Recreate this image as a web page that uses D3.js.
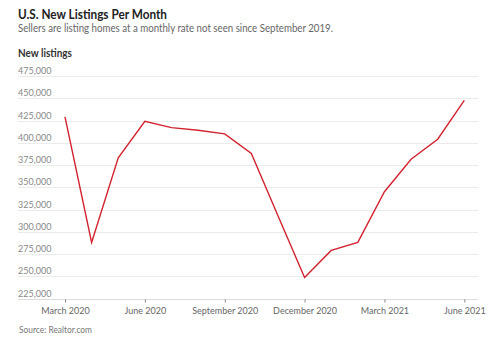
<!DOCTYPE html>
<html>
<head>
<meta charset="utf-8">
<script src="https://cdn.jsdelivr.net/npm/d3@7"></script>
<style>
  html, body { margin: 0; padding: 0; background: #fff; }
  svg { display: block; }
  text { font-family: Lato, "Noto Sans", sans-serif; }
</style>
</head>
<body>
<svg id="chart" width="500" height="341"></svg>
<script>
const months = ["Mar 2020","Apr 2020","May 2020","Jun 2020","Jul 2020","Aug 2020","Sep 2020","Oct 2020","Nov 2020","Dec 2020","Jan 2021","Feb 2021","Mar 2021","Apr 2021","May 2021","Jun 2021"];
const listings = [429000, 288000, 383000, 424000, 417000, 414000, 410000, 388000, 318000, 248500, 279000, 288000, 345000, 381500, 404000, 447500];
const xTickMonths = ["Mar 2020","Jun 2020","Sep 2020","Dec 2020","Mar 2021","Jun 2021"];
const xTickLabels = ["March 2020","June 2020","September 2020","December 2020","March 2021","June 2021"];
const yTicks = [225000, 250000, 275000, 300000, 325000, 350000, 375000, 400000, 425000, 450000, 475000];

const svg = d3.select("#chart");
const left = 18, right = 478;
const x = d3.scalePoint().domain(months).range([65, 464.3]);
const y = d3.scaleLinear().domain([225000, 475000]).range([298.5, 76]);

function fitText(sel, w) {
  sel.attr("textLength", w).attr("lengthAdjust", "spacingAndGlyphs");
}

svg.append("text").attr("x", left).attr("y", 19)
  .attr("font-size", 13).attr("font-weight", 700).attr("fill", "#222")
  .text("U.S. New Listings Per Month").call(fitText, 149);
svg.append("text").attr("x", left).attr("y", 31.5)
  .attr("font-size", 11).attr("fill", "#666")
  .text("Sellers are listing homes at a monthly rate not seen since September 2019.").call(fitText, 315);
svg.append("text").attr("x", left).attr("y", 56.5)
  .attr("font-size", 10.5).attr("font-weight", 700).attr("fill", "#333")
  .text("New listings").call(fitText, 54);

// gridlines + y labels
const gy = svg.append("g");
gy.selectAll("line.grid").data(yTicks).join("line")
  .attr("x1", left).attr("x2", right)
  .attr("y1", d => Math.round(y(d)) + 0.5).attr("y2", d => Math.round(y(d)) + 0.5)
  .attr("stroke", d => d === 225000 ? "#dcdcdc" : "#ebebeb").attr("stroke-width", 1);
gy.selectAll("text.yl").data(yTicks).join("text")
  .attr("x", left).attr("y", d => y(d) - 2)
  .attr("font-size", 9).attr("fill", "#888")
  .text(d3.format(","));

// x axis ticks
const xAxis = d3.axisBottom(x).tickValues(xTickMonths)
  .tickFormat((d, i) => xTickLabels[i]).tickSize(3).tickPadding(5);
const gx = svg.append("g").attr("transform", `translate(0,${Math.round(y(225000)) + 0.5})`).call(xAxis);
gx.select(".domain").remove();
gx.selectAll(".tick line").attr("stroke", "#888");
gx.selectAll(".tick text").attr("font-size", 9).attr("fill", "#666")
  .attr("font-family", "Lato, 'Noto Sans', sans-serif");

// line
const line = d3.line().x((d, i) => x(months[i])).y(d => y(d));
svg.append("path").datum(listings)
  .attr("d", line).attr("fill", "none")
  .attr("stroke", "#d2232f").attr("stroke-width", 1.4).attr("stroke-linejoin", "miter");

svg.append("text").attr("x", left + 1).attr("y", 333)
  .attr("font-size", 9.5).attr("fill", "#777")
  .text("Source: Realtor.com").call(fitText, 73);
</script>
</body>
</html>
